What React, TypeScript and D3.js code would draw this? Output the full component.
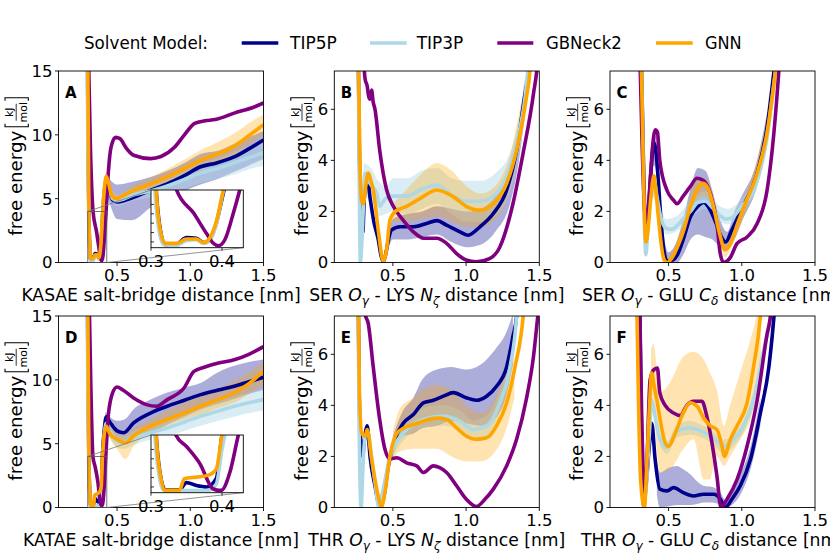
import * as d3 from "d3"

type Pt = [number, number]
type Bd = [number, number, number]

// series order: TIP5P, TIP3P, GBNeck2, GNN
const SERIES = ["TIP5P", "TIP3P", "GBNeck2", "GNN"]
const COLORS = ["#00008b", "#add8e6", "#800080", "#ffa500"]
const BAND_OPACITY = [0.32, 0.45, 0, 0.3]

const X_TICKS = [0.5, 1.0, 1.5]
const Y_TICKS_BIG = [0, 5, 10, 15]
const Y_TICKS_SMALL = [0, 2, 4, 6]
const INSET_X_TICKS = [0.3, 0.4]

// ---- A: KASAE ----
const A_TIP5P: Pt[] = [[0.298, 16], [0.303, 8], [0.308, 3.5], [0.314, 1.0], [0.32, 0.2], [0.336, 0.25], [0.35, 0.7], [0.364, 0.65], [0.374, 0.35], [0.381, 0.45], [0.392, 1.7], [0.403, 4.0], [0.413, 5.6], [0.426, 6.3], [0.445, 5.7], [0.47, 4.9], [0.5, 4.75], [0.55, 4.85], [0.613, 5.1], [0.728, 5.65], [0.843, 6.15], [0.96, 6.8], [1.07, 7.5], [1.18, 7.8], [1.3, 8.27], [1.4, 8.9], [1.5, 9.6]]
const A_TIP3P: Pt[] = [[0.296, 16], [0.301, 8], [0.306, 3.5], [0.312, 1.0], [0.318, 0.2], [0.336, 0.15], [0.35, 0.5], [0.364, 0.55], [0.374, 0.3], [0.381, 0.4], [0.392, 1.6], [0.402, 4.0], [0.413, 5.7], [0.426, 6.4], [0.445, 5.8], [0.47, 5.0], [0.5, 4.85], [0.55, 5.0], [0.613, 5.3], [0.728, 5.6], [0.843, 6.0], [0.96, 6.5], [1.07, 7.0], [1.2, 7.4], [1.3, 7.8], [1.4, 8.2], [1.5, 8.6]]
const A_GBNECK2: Pt[] = [[0.305, 16], [0.318, 9], [0.336, 4.0], [0.36, 2.4], [0.378, 1.0], [0.388, 0.3], [0.395, 0.14], [0.404, 0.55], [0.416, 2.4], [0.425, 4.0], [0.44, 7.0], [0.46, 9.1], [0.49, 9.8], [0.52, 9.7], [0.56, 9.0], [0.613, 8.4], [0.728, 8.14], [0.8, 8.3], [0.89, 9.0], [0.96, 10.0], [1.03, 10.9], [1.1, 11.1], [1.17, 11.2], [1.3, 11.7], [1.44, 12.2], [1.5, 12.5]]
const A_GNN: Pt[] = [[0.3, 16], [0.305, 8], [0.308, 3.5], [0.314, 1.0], [0.32, 0.3], [0.336, 0.3], [0.35, 0.6], [0.364, 0.6], [0.374, 0.35], [0.381, 0.55], [0.3925, 1.9], [0.402, 4.0], [0.412, 5.6], [0.426, 6.75], [0.44, 6.3], [0.465, 5.2], [0.5, 5.0], [0.52, 5.1], [0.613, 5.65], [0.72, 6.1], [0.843, 6.7], [0.95, 7.3], [1.07, 8.0], [1.16, 8.4], [1.25, 8.8], [1.35, 9.5], [1.42, 10.1], [1.5, 10.8]]
const A_TIP5P_BAND: Bd[] = [[0.42, 5.6, 6.9], [0.45, 4.6, 6.5], [0.5, 3.4, 6.1], [0.6, 3.3, 6.3], [0.73, 4.3, 6.7], [0.85, 5.0, 7.2], [0.96, 5.6, 7.8], [1.07, 6.1, 8.5], [1.2, 6.6, 8.8], [1.3, 7.1, 9.3], [1.4, 7.6, 9.8], [1.5, 8.1, 10.3]]
const A_TIP3P_BAND: Bd[] = [[0.42, 5.9, 6.9], [0.5, 4.4, 5.3], [0.6, 4.8, 5.8], [0.73, 5.1, 6.1], [0.85, 5.4, 6.6], [0.96, 5.8, 7.2], [1.07, 6.2, 7.8], [1.2, 6.6, 8.2], [1.3, 6.9, 8.7], [1.4, 7.3, 9.1], [1.5, 7.6, 9.6]]
const A_GNN_BAND: Bd[] = [[0.42, 6.4, 7.1], [0.5, 4.7, 5.3], [0.6, 5.3, 6.0], [0.72, 5.7, 6.6], [0.84, 6.2, 7.3], [0.95, 6.7, 8.0], [1.07, 7.3, 8.8], [1.2, 7.9, 9.5], [1.3, 8.4, 10.1], [1.4, 9.2, 10.9], [1.5, 10.0, 11.6]]

// ---- B: SER O - LYS N ----
const B_TIP5P: Pt[] = [[0.262, 9], [0.272, 4.0], [0.287, 2.2], [0.295, 1.2], [0.305, 2.6], [0.325, 3.3], [0.345, 2.5], [0.37, 1.6], [0.4, 0.9], [0.42, 0.25], [0.435, 0.03], [0.45, 0.3], [0.47, 0.9], [0.49, 1.27], [0.55, 1.4], [0.64, 1.4], [0.73, 1.53], [0.8, 1.64], [0.867, 1.46], [0.958, 1.2], [1.015, 1.07], [1.095, 1.4], [1.186, 1.92], [1.277, 2.84], [1.345, 4.4], [1.4, 6.5], [1.43, 7.6], [1.45, 9]]
const B_TIP3P: Pt[] = [[0.262, 9], [0.27, 3.5], [0.278, 0.0], [0.29, 1.0], [0.31, 3.5], [0.344, 3.1], [0.39, 2.7], [0.41, 2.2], [0.435, 2.4], [0.48, 2.6], [0.594, 2.6], [0.685, 2.84], [0.8, 3.03], [0.91, 2.6], [1.0, 2.4], [1.095, 2.4], [1.186, 2.6], [1.277, 3.36], [1.345, 4.7], [1.413, 7.0], [1.44, 9]]
const B_GBNECK2: Pt[] = [[0.29, 9], [0.31, 7.2], [0.325, 6.9], [0.335, 6.5], [0.344, 6.4], [0.355, 6.75], [0.365, 6.3], [0.378, 6.0], [0.41, 4.4], [0.457, 2.85], [0.503, 2.2], [0.57, 1.66], [0.64, 1.2], [0.71, 0.95], [0.8, 0.95], [0.867, 0.75], [0.935, 0.35], [1.0, 0.1], [1.07, 0.03], [1.16, 0.15], [1.23, 0.6], [1.32, 2.3], [1.39, 4.3], [1.46, 6.6], [1.49, 8], [1.5, 9]]
const B_GNN: Pt[] = [[0.262, 9], [0.275, 4.0], [0.287, 2.4], [0.298, 2.3], [0.315, 3.0], [0.332, 3.5], [0.35, 3.2], [0.366, 2.85], [0.4, 1.27], [0.435, 0.05], [0.457, 0.5], [0.48, 1.66], [0.514, 1.99], [0.594, 2.2], [0.685, 2.5], [0.8, 2.84], [0.912, 2.58], [1.0, 2.2], [1.095, 2.05], [1.186, 2.3], [1.277, 3.1], [1.345, 4.4], [1.413, 6.5], [1.436, 7.5], [1.45, 9]]
const B_TIP5P_BAND: Bd[] = [[0.45, 0.1, 0.6], [0.5, 0.9, 1.7], [0.6, 0.9, 1.9], [0.7, 1.0, 2.0], [0.8, 1.1, 2.2], [0.9, 0.8, 2.1], [1.0, 0.6, 2.0], [1.1, 0.7, 2.1], [1.2, 1.2, 2.6], [1.3, 2.3, 3.7], [1.35, 3.6, 5.0], [1.4, 5.7, 7.2]]
const B_TIP3P_BAND: Bd[] = [[0.3, 2.5, 3.9], [0.35, 2.5, 3.7], [0.4, 1.8, 3.2], [0.45, 1.9, 3.0], [0.5, 2.0, 3.3], [0.6, 1.9, 3.3], [0.7, 2.1, 3.6], [0.8, 2.3, 3.7], [0.9, 1.9, 3.3], [1.0, 1.6, 3.2], [1.1, 1.6, 3.2], [1.2, 1.8, 3.5], [1.3, 2.8, 4.3], [1.36, 4.2, 5.6], [1.42, 6.3, 7.8]]
const B_GNN_BAND: Bd[] = [[0.5, 1.6, 2.3], [0.6, 1.6, 2.9], [0.7, 1.7, 3.5], [0.8, 1.8, 3.9], [0.9, 1.6, 3.6], [1.0, 1.4, 3.0], [1.1, 1.4, 2.7], [1.2, 1.7, 3.0], [1.3, 2.9, 4.2], [1.38, 5.0, 6.4]]

// ---- C: SER O - GLU C ----
const C_TIP5P: Pt[] = [[0.31, 9], [0.33, 3.5], [0.345, 1.2], [0.36, 1.8], [0.38, 3.6], [0.4, 4.7], [0.415, 4.3], [0.43, 3.2], [0.45, 1.5], [0.47, 0.4], [0.49, 0.05], [0.53, 0.1], [0.56, 0.3], [0.6, 0.9], [0.65, 1.8], [0.7, 2.2], [0.74, 2.35], [0.78, 2.1], [0.82, 1.6], [0.86, 1.0], [0.89, 0.8], [0.93, 1.25], [1.0, 2.1], [1.1, 3.4], [1.17, 5.2], [1.22, 7.5], [1.25, 9]]
const C_TIP3P: Pt[] = [[0.31, 9], [0.33, 2.5], [0.345, 0.3], [0.36, 1.5], [0.385, 3.0], [0.4, 3.3], [0.42, 2.6], [0.45, 1.7], [0.48, 1.35], [0.52, 1.3], [0.56, 1.45], [0.6, 1.7], [0.65, 2.0], [0.7, 2.35], [0.75, 2.4], [0.8, 2.15], [0.85, 1.85], [0.89, 1.7], [0.93, 1.75], [1.0, 2.2], [1.1, 3.1], [1.17, 4.8], [1.23, 7.5], [1.26, 9]]
const C_GBNECK2: Pt[] = [[0.3, 9], [0.32, 4.5], [0.335, 2.2], [0.35, 1.4], [0.37, 2.8], [0.39, 4.5], [0.41, 5.2], [0.424, 5.1], [0.44, 4.0], [0.488, 2.84], [0.534, 2.44], [0.557, 2.3], [0.6, 2.6], [0.648, 2.97], [0.694, 3.3], [0.74, 3.2], [0.785, 2.7], [0.83, 1.53], [0.853, 0.35], [0.876, 0.0], [0.922, 0.2], [0.968, 0.75], [1.036, 1.0], [1.105, 1.53], [1.173, 2.84], [1.219, 5.06], [1.253, 7.5], [1.27, 9]]
const C_GNN: Pt[] = [[0.31, 9], [0.33, 3], [0.345, 0.8], [0.36, 1.3], [0.38, 2.6], [0.4, 3.4], [0.41, 3.0], [0.43, 1.8], [0.45, 0.7], [0.47, 0.1], [0.49, 0.0], [0.52, 0.15], [0.56, 0.6], [0.6, 1.2], [0.65, 2.2], [0.7, 2.9], [0.735, 3.1], [0.77, 2.9], [0.81, 2.1], [0.85, 1.1], [0.885, 0.5], [0.92, 0.7], [0.97, 1.5], [1.03, 2.4], [1.1, 3.4], [1.17, 5.0], [1.23, 7.5], [1.26, 9]]
const C_TIP5P_BAND: Bd[] = [[0.38, 2.8, 4.2], [0.4, 3.8, 5.0], [0.42, 3.4, 4.9], [0.45, 1.0, 2.0], [0.5, 0.0, 0.4], [0.56, 0.0, 0.9], [0.6, 0.3, 1.7], [0.65, 0.9, 2.9], [0.7, 1.1, 3.7], [0.75, 1.0, 3.6], [0.8, 0.9, 2.8], [0.85, 0.6, 1.7], [0.9, 0.5, 1.2], [0.95, 0.9, 2.0], [1.0, 1.6, 2.6], [1.1, 2.9, 3.9], [1.17, 4.6, 5.8]]
const C_TIP3P_BAND: Bd[] = [[0.38, 2.6, 3.3], [0.42, 2.3, 3.0], [0.48, 1.1, 1.7], [0.55, 1.2, 1.8], [0.65, 1.7, 2.4], [0.75, 2.1, 2.8], [0.85, 1.6, 2.2], [0.9, 1.5, 2.1], [1.0, 1.9, 2.5], [1.1, 2.8, 3.4]]
const C_GNN_BAND: Bd[] = [[0.38, 2.3, 3.0], [0.41, 2.7, 3.3], [0.45, 0.4, 1.0], [0.5, 0.0, 0.3], [0.6, 0.8, 1.6], [0.7, 2.5, 3.3], [0.75, 2.6, 3.3], [0.82, 1.7, 2.3], [0.885, 0.2, 0.8], [0.95, 0.9, 1.6], [1.05, 2.3, 3.0], [1.15, 4.0, 5.0]]

// ---- D: KATAE ----
const D_TIP5P: Pt[] = [[0.298, 16], [0.303, 8], [0.308, 3.5], [0.314, 1.0], [0.32, 0.2], [0.34, 0.2], [0.35, 0.7], [0.364, 0.5], [0.378, 0.4], [0.392, 1.0], [0.4, 4.0], [0.412, 6.0], [0.426, 7.1], [0.45, 6.7], [0.5, 6.0], [0.545, 5.85], [0.613, 6.63], [0.728, 7.4], [0.843, 7.93], [0.96, 8.4], [1.07, 8.84], [1.19, 9.2], [1.3, 9.5], [1.4, 9.85], [1.5, 10.2]]
const D_TIP3P: Pt[] = [[0.296, 16], [0.301, 8], [0.306, 3.5], [0.312, 1.0], [0.318, 0.15], [0.38, 0.15], [0.392, 0.6], [0.4, 3.0], [0.412, 5.5], [0.426, 6.6], [0.45, 6.0], [0.5, 5.2], [0.53, 5.07], [0.613, 5.46], [0.728, 5.85], [0.843, 6.24], [0.96, 6.7], [1.07, 7.15], [1.19, 7.55], [1.3, 7.93], [1.4, 8.2], [1.5, 8.45]]
const D_GBNECK2: Pt[] = [[0.31, 16], [0.32, 10], [0.335, 4.0], [0.35, 3.2], [0.369, 2.0], [0.387, 0.28], [0.395, 0.16], [0.399, 0.16], [0.411, 1.4], [0.423, 4.0], [0.44, 7.2], [0.47, 9.0], [0.5, 9.44], [0.54, 9.2], [0.613, 8.58], [0.7, 8.06], [0.77, 7.93], [0.843, 8.45], [0.957, 9.36], [1.025, 10.66], [1.1, 11.0], [1.186, 11.3], [1.3, 11.57], [1.4, 12.0], [1.5, 12.6]]
const D_GNN: Pt[] = [[0.3, 16], [0.305, 8], [0.308, 3.5], [0.314, 1.0], [0.319, 0.16], [0.34, 0.16], [0.347, 0.97], [0.364, 1.08], [0.38, 1.2], [0.392, 1.65], [0.4, 4.0], [0.41, 5.5], [0.426, 6.37], [0.45, 5.8], [0.5, 5.33], [0.556, 5.07], [0.613, 5.6], [0.728, 6.37], [0.843, 6.9], [0.96, 7.4], [1.07, 7.93], [1.19, 8.45], [1.3, 8.97], [1.4, 9.7], [1.5, 10.66]]
const D_TIP5P_BAND: Bd[] = [[0.42, 6.6, 7.5], [0.5, 5.2, 6.8], [0.55, 5.1, 6.9], [0.613, 5.6, 7.7], [0.728, 5.85, 8.45], [0.843, 6.5, 9.0], [0.96, 7.1, 9.4], [1.07, 7.67, 9.75], [1.19, 8.1, 10.6], [1.3, 8.5, 11.1], [1.4, 8.9, 11.4], [1.5, 9.2, 11.6]]
const D_TIP3P_BAND: Bd[] = [[0.42, 6.2, 7.0], [0.5, 4.7, 5.7], [0.55, 4.6, 5.6], [0.613, 4.9, 6.0], [0.728, 5.3, 6.4], [0.843, 5.6, 6.9], [0.96, 6.0, 7.4], [1.07, 6.4, 7.9], [1.19, 6.8, 8.3], [1.3, 7.1, 8.7], [1.4, 7.4, 9.0], [1.5, 7.6, 9.3]]
const D_GNN_BAND: Bd[] = [[0.42, 6.0, 6.7], [0.5, 4.6, 5.8], [0.556, 3.8, 5.6], [0.613, 4.8, 6.2], [0.728, 5.9, 6.9], [0.843, 6.4, 7.6], [0.96, 6.9, 8.2], [1.07, 7.3, 8.7], [1.19, 7.8, 9.3], [1.3, 8.2, 9.9], [1.4, 8.9, 10.6], [1.5, 9.6, 11.4]]

// ---- E: THR O - LYS N ----
const E_TIP5P: Pt[] = [[0.262, 9], [0.27, 4.5], [0.28, 2.6], [0.293, 2.0], [0.305, 2.6], [0.325, 3.2], [0.344, 2.0], [0.378, 0.85], [0.41, 0.07], [0.435, 0.33], [0.469, 1.63], [0.514, 2.67], [0.571, 3.3], [0.64, 3.64], [0.708, 4.1], [0.776, 4.2], [0.845, 4.36], [0.913, 4.5], [1.0, 4.3], [1.07, 4.2], [1.14, 4.36], [1.208, 4.75], [1.277, 5.5], [1.32, 6.7], [1.345, 7.5], [1.36, 9]]
const E_TIP3P: Pt[] = [[0.26, 9], [0.27, 3.0], [0.283, 0.0], [0.295, 1.5], [0.31, 2.8], [0.332, 2.9], [0.35, 2.2], [0.38, 0.9], [0.405, 0.0], [0.43, 0.6], [0.48, 2.0], [0.57, 2.9], [0.708, 3.45], [0.845, 3.58], [0.958, 3.38], [1.05, 3.05], [1.14, 3.2], [1.23, 4.1], [1.3, 5.5], [1.345, 7.5], [1.36, 9]]
const E_GBNECK2: Pt[] = [[0.3, 9], [0.31, 7.6], [0.332, 7.2], [0.366, 5.5], [0.41, 3.45], [0.446, 2.28], [0.48, 1.9], [0.526, 1.95], [0.594, 1.75], [0.663, 1.63], [0.708, 1.37], [0.776, 1.63], [0.82, 1.56], [0.867, 1.37], [0.935, 0.85], [1.0, 0.33], [1.07, 0.04], [1.13, 0.33], [1.186, 0.72], [1.277, 1.63], [1.345, 2.67], [1.41, 4.2], [1.46, 5.9], [1.49, 7.5], [1.5, 8]]
const E_GNN: Pt[] = [[0.262, 9], [0.272, 4.5], [0.287, 2.9], [0.31, 2.8], [0.325, 3.05], [0.355, 1.9], [0.39, 0.72], [0.423, 0.04], [0.446, 0.6], [0.48, 2.0], [0.526, 2.9], [0.571, 3.1], [0.64, 3.25], [0.708, 3.38], [0.8, 3.5], [0.867, 3.45], [0.935, 3.12], [1.0, 2.8], [1.07, 2.67], [1.14, 2.73], [1.208, 3.2], [1.277, 4.1], [1.334, 5.5], [1.39, 7.5], [1.41, 9]]
const E_TIP5P_BAND: Bd[] = [[0.5, 2.1, 2.8], [0.57, 2.8, 3.8], [0.64, 2.9, 4.3], [0.7, 3.1, 5.0], [0.8, 3.2, 5.4], [0.9, 3.4, 5.5], [1.0, 3.3, 5.4], [1.1, 3.2, 5.6], [1.2, 3.5, 6.2], [1.27, 4.3, 6.8], [1.32, 5.6, 7.6]]
const E_TIP3P_BAND: Bd[] = [[0.5, 2.0, 2.8], [0.57, 2.6, 3.3], [0.7, 3.1, 3.9], [0.85, 3.2, 4.0], [0.96, 3.0, 3.8], [1.05, 2.7, 3.4], [1.14, 2.8, 3.6], [1.23, 3.7, 4.6], [1.3, 5.0, 6.0]]
const E_GNN_BAND: Bd[] = [[0.5, 1.9, 3.0], [0.55, 2.2, 3.9], [0.64, 2.3, 4.3], [0.7, 2.3, 4.6], [0.8, 2.3, 4.8], [0.9, 2.0, 4.6], [1.0, 1.8, 4.0], [1.1, 1.8, 3.7], [1.2, 2.2, 4.3], [1.27, 3.0, 5.4], [1.33, 4.3, 7.0]]

// ---- F: THR O - GLU C ----
const F_TIP5P: Pt[] = [[0.3, 9], [0.315, 3.0], [0.33, 0.07], [0.345, 0.8], [0.37, 2.5], [0.385, 3.3], [0.408, 1.9], [0.44, 0.72], [0.49, 0.65], [0.534, 0.78], [0.6, 0.58], [0.67, 0.45], [0.74, 0.52], [0.81, 0.52], [0.853, 0.33], [0.888, 0.0], [0.933, 0.33], [0.99, 0.85], [1.06, 1.9], [1.127, 3.7], [1.185, 5.5], [1.22, 7.5], [1.24, 9]]
const F_TIP3P: Pt[] = [[0.29, 9], [0.31, 3.0], [0.33, 0.1], [0.35, 1.0], [0.37, 3.0], [0.385, 4.2], [0.41, 3.5], [0.44, 2.67], [0.49, 2.35], [0.557, 3.0], [0.648, 3.12], [0.717, 3.0], [0.785, 2.8], [0.83, 2.6], [0.877, 2.4], [0.945, 2.67], [1.013, 3.2], [1.08, 4.2], [1.15, 6.2], [1.196, 7.5], [1.22, 9]]
const F_GBNECK2: Pt[] = [[0.3, 9], [0.315, 4.0], [0.335, 0.6], [0.35, 1.5], [0.374, 5.0], [0.4, 5.4], [0.424, 5.46], [0.44, 4.5], [0.477, 4.0], [0.534, 3.7], [0.58, 3.6], [0.625, 4.0], [0.67, 4.16], [0.728, 4.16], [0.76, 3.6], [0.796, 2.54], [0.83, 1.24], [0.858, 0.0], [0.9, 0.33], [0.968, 1.1], [1.036, 2.4], [1.105, 4.2], [1.173, 6.8], [1.196, 7.5], [1.21, 8.5]]
const F_GNN: Pt[] = [[0.28, 9], [0.295, 4.0], [0.31, 1.0], [0.335, 0.0], [0.35, 1.5], [0.37, 4.0], [0.385, 5.27], [0.4, 4.8], [0.42, 4.2], [0.477, 2.54], [0.5, 2.4], [0.545, 2.9], [0.6, 3.7], [0.648, 4.1], [0.694, 3.97], [0.74, 3.5], [0.785, 3.2], [0.83, 3.05], [0.865, 2.4], [0.88, 2.0], [0.922, 2.67], [0.968, 3.2], [1.036, 4.1], [1.08, 5.5], [1.127, 7.5], [1.14, 8.5]]
const F_TIP5P_BAND: Bd[] = [[0.42, 0.5, 1.8], [0.44, 0.0, 1.37], [0.5, 0.05, 1.55], [0.557, 0.1, 1.63], [0.6, 0.1, 1.5], [0.648, 0.1, 1.3], [0.7, 0.15, 1.0], [0.74, 0.2, 0.85], [0.8, 0.2, 0.8], [0.853, 0.1, 0.6], [0.888, 0.0, 0.3], [0.933, 0.1, 0.7], [0.99, 0.5, 1.3], [1.06, 1.5, 2.4], [1.127, 3.2, 4.3]]
const F_TIP3P_BAND: Bd[] = [[0.44, 2.4, 2.9], [0.49, 2.1, 2.6], [0.557, 2.75, 3.25], [0.648, 2.85, 3.4], [0.717, 2.75, 3.25], [0.785, 2.55, 3.05], [0.877, 2.15, 2.65], [0.945, 2.4, 2.9], [1.013, 2.95, 3.45], [1.08, 3.9, 4.5]]
const F_GNN_BAND: Bd[] = [[0.38, 3.8, 6.2], [0.397, 3.6, 6.4], [0.44, 1.37, 4.5], [0.51, 1.5, 4.9], [0.6, 2.28, 5.9], [0.67, 2.67, 6.1], [0.74, 1.1, 5.8], [0.78, 1.1, 5.3], [0.83, 2.0, 4.6], [0.877, 1.63, 3.2], [0.92, 2.0, 4.0], [0.99, 2.67, 5.3], [1.06, 3.45, 6.6], [1.1, 4.3, 7.5], [1.13, 4.9, 8.5]]

type Part = { t: string; it?: boolean; sub?: boolean }
const LABEL_KASAE: Part[] = [{ t: "KASAE salt-bridge distance [nm]" }]
const LABEL_KATAE: Part[] = [{ t: "KATAE salt-bridge distance [nm]" }]
const pair = (a: string, b: string, c: string, d: string): Part[] => [
  { t: a + " " }, { t: "O", it: true }, { t: "γ", it: true, sub: true },
  { t: " - " + b + " " }, { t: c, it: true }, { t: d, it: true, sub: true },
  { t: " distance [nm]" },
]

const PANELS = [
  { key: "A", row: 0, col: 0, yMax: 15, yTicks: Y_TICKS_BIG, label: LABEL_KASAE, lines: [A_TIP5P, A_TIP3P, A_GBNECK2, A_GNN], bands: [A_TIP5P_BAND, A_TIP3P_BAND, null, A_GNN_BAND], inset: true },
  { key: "B", row: 0, col: 1, yMax: 7.5, yTicks: Y_TICKS_SMALL, label: pair("SER", "LYS", "N", "ζ"), lines: [B_TIP5P, B_TIP3P, B_GBNECK2, B_GNN], bands: [B_TIP5P_BAND, B_TIP3P_BAND, null, B_GNN_BAND], inset: false },
  { key: "C", row: 0, col: 2, yMax: 7.5, yTicks: Y_TICKS_SMALL, label: pair("SER", "GLU", "C", "δ"), lines: [C_TIP5P, C_TIP3P, C_GBNECK2, C_GNN], bands: [C_TIP5P_BAND, C_TIP3P_BAND, null, C_GNN_BAND], inset: false },
  { key: "D", row: 1, col: 0, yMax: 15, yTicks: Y_TICKS_BIG, label: LABEL_KATAE, lines: [D_TIP5P, D_TIP3P, D_GBNECK2, D_GNN], bands: [D_TIP5P_BAND, D_TIP3P_BAND, null, D_GNN_BAND], inset: true },
  { key: "E", row: 1, col: 1, yMax: 7.5, yTicks: Y_TICKS_SMALL, label: pair("THR", "LYS", "N", "ζ"), lines: [E_TIP5P, E_TIP3P, E_GBNECK2, E_GNN], bands: [E_TIP5P_BAND, E_TIP3P_BAND, null, E_GNN_BAND], inset: false },
  { key: "F", row: 1, col: 2, yMax: 7.5, yTicks: Y_TICKS_SMALL, label: pair("THR", "GLU", "C", "δ"), lines: [F_TIP5P, F_TIP3P, F_GBNECK2, F_GNN], bands: [F_TIP5P_BAND, F_TIP3P_BAND, null, F_GNN_BAND], inset: false },
]

const FONT = "DejaVu Sans"
const COL_X = [58.5, 334.3, 610]
const ROW_Y = [71, 316]
const PW = 205
const PH = 191.5
const INSET = { x: 92.5, y: 119, w: 92.3, h: 57.7, xd: [0.3, 0.43], yd: [0, 4] }
const TICK_FS = 16.5
const LABEL_FS = 17.2

function YLabel({ x, y }: { x: number; y: number }) {
  return (
    <g transform={`translate(${x},${y}) rotate(-90)`} fontFamily={FONT}>
      <text x={-69} y={0} fontSize={17} textLength={105} lengthAdjust="spacingAndGlyphs">free energy</text>
      <path d="M43,-16.7H40V6.6H43" fill="none" stroke="#000" strokeWidth={1.1} />
      <path d="M66,-16.7H69V6.6H66" fill="none" stroke="#000" strokeWidth={1.1} />
      <text x={54.5} y={-8.5} fontSize={11} textAnchor="middle">kJ</text>
      <line x1={46} x2={63} y1={-5.5} y2={-5.5} stroke="#000" strokeWidth={0.8} />
      <text x={54.5} y={4.8} fontSize={11} textAnchor="middle">mol</text>
    </g>
  )
}

function Panel({ p }: { p: (typeof PANELS)[number] }) {
  const left = COL_X[p.col]
  const top = ROW_Y[p.row]
  const x = d3.scaleLinear().domain([0.1, 1.5]).range([0, PW])
  const y = d3.scaleLinear().domain([0, p.yMax]).range([PH, 0])
  const line = d3.line<Pt>().x(d => x(d[0])).y(d => y(d[1])).curve(d3.curveMonotoneX)
  const area = d3.area<Bd>().x(d => x(d[0])).y0(d => y(d[1])).y1(d => y(d[2])).curve(d3.curveMonotoneX)

  const xi = d3.scaleLinear().domain(INSET.xd).range([0, INSET.w])
  const yi = d3.scaleLinear().domain(INSET.yd).range([INSET.h, 0])
  const lineI = d3.line<Pt>().x(d => xi(d[0])).y(d => yi(d[1])).curve(d3.curveMonotoneX)

  const twoDigit = p.yMax > 10
  const clipId = `clip-${p.key}`
  const iclipId = `iclip-${p.key}`

  return (
    <g transform={`translate(${left},${top})`} fontFamily={FONT}>
      <defs>
        <clipPath id={clipId}><rect x={0} y={0} width={PW} height={PH} /></clipPath>
        <clipPath id={iclipId}><rect x={0} y={0} width={INSET.w} height={INSET.h} /></clipPath>
      </defs>
      <g clipPath={`url(#${clipId})`}>
        {p.bands.map((b, i) => b && (
          <path key={`b${i}`} d={area(b) ?? ""} fill={COLORS[i]} fillOpacity={BAND_OPACITY[i]} />
        ))}
        {p.lines.map((l, i) => (
          <path key={`l${i}`} d={line(l) ?? ""} fill="none" stroke={COLORS[i]} strokeWidth={3.6} strokeLinejoin="round" />
        ))}
      </g>
      {/* axes frame */}
      <rect x={0} y={0} width={PW} height={PH} fill="none" stroke="#000" strokeWidth={0.9} />
      {X_TICKS.map(t => (
        <g key={`xt${t}`} transform={`translate(${x(t)},${PH})`}>
          <line y1={0} y2={3.5} stroke="#000" strokeWidth={0.9} />
          <text y={18} fontSize={TICK_FS} textAnchor="middle">{t.toFixed(1)}</text>
        </g>
      ))}
      {p.yTicks.map(t => (
        <g key={`yt${t}`} transform={`translate(0,${y(t)})`}>
          <line x1={0} x2={-3.5} stroke="#000" strokeWidth={0.9} />
          <text x={-6} dy="0.36em" fontSize={TICK_FS} textAnchor="end">{t}</text>
        </g>
      ))}
      <text x={6.5} y={27} fontSize={15} fontWeight="bold">{p.key}</text>
      <text x={PW / 2} y={PH + 38} fontSize={LABEL_FS} textAnchor="middle">
        {p.label.map((s, i) => (
          <tspan key={i} fontStyle={s.it ? "italic" : "normal"} fontSize={s.sub ? 12 : LABEL_FS}
            dy={s.sub ? 4 : (i > 0 && p.label[i - 1].sub ? -4 : 0)}>{s.t}</tspan>
        ))}
      </text>
      <YLabel x={twoDigit ? -36.8 : -26.8} y={PH / 2} />

      {p.inset && (
        <g>
          {/* zoom box and connectors */}
          <rect x={x(INSET.xd[0])} y={y(INSET.yd[1])} width={x(INSET.xd[1]) - x(INSET.xd[0])}
            height={y(INSET.yd[0]) - y(INSET.yd[1])} fill="none" stroke="#555" strokeWidth={0.8} />
          <line x1={x(INSET.xd[0])} y1={y(INSET.yd[1])} x2={INSET.x} y2={INSET.y} stroke="#777" strokeWidth={0.8} />
          <line x1={x(INSET.xd[1])} y1={y(INSET.yd[0])} x2={INSET.x + INSET.w} y2={INSET.y + INSET.h} stroke="#777" strokeWidth={0.8} />
          <g transform={`translate(${INSET.x},${INSET.y})`}>
            <rect width={INSET.w} height={INSET.h} fill="#fff" />
            <g clipPath={`url(#${iclipId})`}>
              {p.lines.map((l, i) => (
                <path key={`il${i}`} d={lineI(l) ?? ""} fill="none" stroke={COLORS[i]} strokeWidth={3.6} strokeLinejoin="round" />
              ))}
            </g>
            <rect width={INSET.w} height={INSET.h} fill="none" stroke="#000" strokeWidth={0.9} />
            {d3.range(0.4, 3.1, 0.65).map(t => (
              <line key={`iy${t}`} x1={0} x2={3} y1={yi(t)} y2={yi(t)} stroke="#000" strokeWidth={0.8} />
            ))}
            {INSET_X_TICKS.map(t => (
              <g key={`ix${t}`} transform={`translate(${xi(t)},${INSET.h})`}>
                <line y1={0} y2={3} stroke="#000" strokeWidth={0.8} />
                <text y={19} fontSize={TICK_FS} textAnchor="middle">{t.toFixed(1)}</text>
              </g>
            ))}
          </g>
        </g>
      )}
    </g>
  )
}

const LEGEND_LINES = [[241.7, 278.3], [370, 406.7], [497.3, 533.3], [656, 692.7]]
const LEGEND_TEXT = [[290, 46.7], [416.7, 46.6], [546, 75.7], [705, 36.7]]

export default function App() {
  return (
    <svg width={830} height={554} style={{ position: "absolute", left: 0, top: 0, background: "#fff" }}>
      <rect width={830} height={554} fill="#fff" />
      <g fontFamily={FONT} fontSize={17}>
        <text x={84} y={48.7} textLength={124} lengthAdjust="spacingAndGlyphs">Solvent Model:</text>
        {SERIES.map((s, i) => (
          <g key={s}>
            <line x1={LEGEND_LINES[i][0]} x2={LEGEND_LINES[i][1]} y1={43} y2={43} stroke={COLORS[i]} strokeWidth={3.6} />
            <text x={LEGEND_TEXT[i][0]} y={48.7} textLength={LEGEND_TEXT[i][1]} lengthAdjust="spacingAndGlyphs">{s}</text>
          </g>
        ))}
      </g>
      {PANELS.map(p => <Panel key={p.key} p={p} />)}
    </svg>
  )
}
